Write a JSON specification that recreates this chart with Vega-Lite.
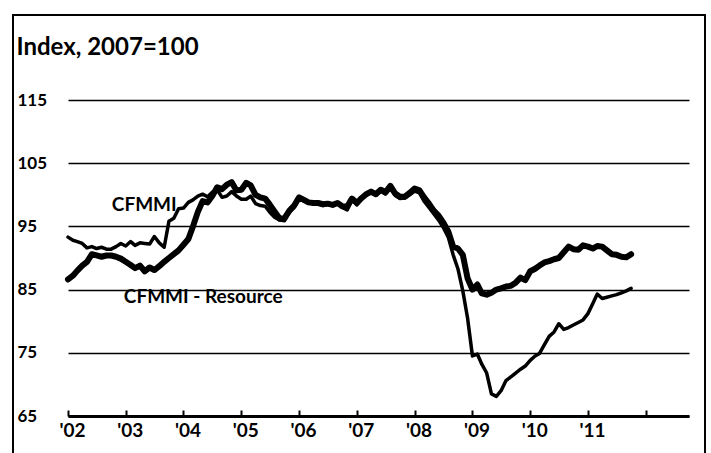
{
  "$schema": "https://vega.github.io/schema/vega-lite/v6.json",
  "width": 692,
  "height": 438,
  "autosize": "none",
  "padding": {"left": 13, "top": 15, "right": 6, "bottom": 0},
  "config": {
    "view": {"stroke": "black", "strokeWidth": 2, "strokeDash": [1130, 692, 600]},
    "font": "Lato"
  },
  "data": {"values": [
    {"d": "2002-01-01", "a": 93.3, "b": 86.6},
    {"d": "2002-02-01", "a": 92.8, "b": 87.2},
    {"d": "2002-03-01", "a": 92.6, "b": 88.0},
    {"d": "2002-04-01", "a": 92.3, "b": 88.8},
    {"d": "2002-05-01", "a": 91.6, "b": 89.4},
    {"d": "2002-06-01", "a": 91.8, "b": 90.6},
    {"d": "2002-07-01", "a": 91.5, "b": 90.4},
    {"d": "2002-08-01", "a": 91.7, "b": 90.2},
    {"d": "2002-09-01", "a": 91.4, "b": 90.4},
    {"d": "2002-10-01", "a": 91.4, "b": 90.4},
    {"d": "2002-11-01", "a": 91.8, "b": 90.2},
    {"d": "2002-12-01", "a": 92.3, "b": 89.9},
    {"d": "2003-01-01", "a": 91.9, "b": 89.4},
    {"d": "2003-02-01", "a": 92.6, "b": 88.9},
    {"d": "2003-03-01", "a": 92.0, "b": 88.4},
    {"d": "2003-04-01", "a": 92.4, "b": 88.8},
    {"d": "2003-05-01", "a": 92.3, "b": 87.9},
    {"d": "2003-06-01", "a": 92.2, "b": 88.5},
    {"d": "2003-07-01", "a": 93.4, "b": 88.1},
    {"d": "2003-08-01", "a": 92.4, "b": 88.7},
    {"d": "2003-09-01", "a": 91.7, "b": 89.4},
    {"d": "2003-10-01", "a": 95.8, "b": 90.0},
    {"d": "2003-11-01", "a": 96.3, "b": 90.6},
    {"d": "2003-12-01", "a": 97.8, "b": 91.2},
    {"d": "2004-01-01", "a": 97.9, "b": 92.1},
    {"d": "2004-02-01", "a": 98.8, "b": 93.0},
    {"d": "2004-03-01", "a": 99.2, "b": 95.0},
    {"d": "2004-04-01", "a": 99.8, "b": 97.3},
    {"d": "2004-05-01", "a": 100.1, "b": 99.0},
    {"d": "2004-06-01", "a": 99.7, "b": 98.8},
    {"d": "2004-07-01", "a": 100.4, "b": 99.8},
    {"d": "2004-08-01", "a": 100.8, "b": 101.2},
    {"d": "2004-09-01", "a": 99.6, "b": 100.9},
    {"d": "2004-10-01", "a": 99.8, "b": 101.6},
    {"d": "2004-11-01", "a": 100.5, "b": 102.0},
    {"d": "2004-12-01", "a": 99.8, "b": 100.7},
    {"d": "2005-01-01", "a": 99.3, "b": 100.8},
    {"d": "2005-02-01", "a": 99.3, "b": 101.9},
    {"d": "2005-03-01", "a": 99.8, "b": 101.5},
    {"d": "2005-04-01", "a": 98.6, "b": 100.0},
    {"d": "2005-05-01", "a": 98.3, "b": 99.6},
    {"d": "2005-06-01", "a": 98.2, "b": 99.4},
    {"d": "2005-07-01", "a": 97.2, "b": 98.4},
    {"d": "2005-08-01", "a": 96.4, "b": 97.3},
    {"d": "2005-09-01", "a": 96.0, "b": 96.2},
    {"d": "2005-10-01", "a": 95.9, "b": 96.3},
    {"d": "2005-11-01", "a": 97.3, "b": 97.5},
    {"d": "2005-12-01", "a": 98.0, "b": 98.3},
    {"d": "2006-01-01", "a": 99.3, "b": 99.6},
    {"d": "2006-02-01", "a": 99.0, "b": 99.2},
    {"d": "2006-03-01", "a": 98.8, "b": 98.8},
    {"d": "2006-04-01", "a": 98.6, "b": 98.7},
    {"d": "2006-05-01", "a": 98.6, "b": 98.7},
    {"d": "2006-06-01", "a": 98.3, "b": 98.5},
    {"d": "2006-07-01", "a": 98.5, "b": 98.6},
    {"d": "2006-08-01", "a": 98.3, "b": 98.4},
    {"d": "2006-09-01", "a": 98.6, "b": 98.7},
    {"d": "2006-10-01", "a": 98.0, "b": 98.2},
    {"d": "2006-11-01", "a": 97.6, "b": 98.1},
    {"d": "2006-12-01", "a": 99.3, "b": 99.4},
    {"d": "2007-01-01", "a": 98.4, "b": 98.7},
    {"d": "2007-02-01", "a": 99.4, "b": 99.5},
    {"d": "2007-03-01", "a": 99.9, "b": 100.1},
    {"d": "2007-04-01", "a": 100.3, "b": 100.5},
    {"d": "2007-05-01", "a": 99.9, "b": 100.1},
    {"d": "2007-06-01", "a": 100.6, "b": 100.8},
    {"d": "2007-07-01", "a": 100.1, "b": 100.4},
    {"d": "2007-08-01", "a": 101.0, "b": 101.4},
    {"d": "2007-09-01", "a": 99.9, "b": 100.2},
    {"d": "2007-10-01", "a": 99.4, "b": 99.7},
    {"d": "2007-11-01", "a": 99.5, "b": 99.7},
    {"d": "2007-12-01", "a": 100.0, "b": 100.3},
    {"d": "2008-01-01", "a": 100.6, "b": 101.0},
    {"d": "2008-02-01", "a": 100.3, "b": 100.7},
    {"d": "2008-03-01", "a": 99.0, "b": 99.6},
    {"d": "2008-04-01", "a": 98.0, "b": 98.6},
    {"d": "2008-05-01", "a": 97.0, "b": 97.5},
    {"d": "2008-06-01", "a": 96.0, "b": 96.7},
    {"d": "2008-07-01", "a": 94.8, "b": 95.6},
    {"d": "2008-08-01", "a": 93.3, "b": 94.2},
    {"d": "2008-09-01", "a": 90.5, "b": 91.8},
    {"d": "2008-10-01", "a": 88.3, "b": 91.5},
    {"d": "2008-11-01", "a": 84.8, "b": 90.5},
    {"d": "2008-12-01", "a": 80.5, "b": 86.8},
    {"d": "2009-01-01", "a": 74.5, "b": 85.0},
    {"d": "2009-02-01", "a": 74.8, "b": 85.8},
    {"d": "2009-03-01", "a": 73.2, "b": 84.4},
    {"d": "2009-04-01", "a": 71.8, "b": 84.2},
    {"d": "2009-05-01", "a": 68.5, "b": 84.5},
    {"d": "2009-06-01", "a": 68.1, "b": 85.0},
    {"d": "2009-07-01", "a": 69.0, "b": 85.2},
    {"d": "2009-08-01", "a": 70.6, "b": 85.5},
    {"d": "2009-09-01", "a": 71.2, "b": 85.6},
    {"d": "2009-10-01", "a": 71.8, "b": 86.1},
    {"d": "2009-11-01", "a": 72.4, "b": 86.9},
    {"d": "2009-12-01", "a": 72.9, "b": 86.5},
    {"d": "2010-01-01", "a": 73.8, "b": 87.9},
    {"d": "2010-02-01", "a": 74.5, "b": 88.3},
    {"d": "2010-03-01", "a": 74.9, "b": 88.8},
    {"d": "2010-04-01", "a": 76.3, "b": 89.3},
    {"d": "2010-05-01", "a": 77.6, "b": 89.5},
    {"d": "2010-06-01", "a": 78.3, "b": 89.8},
    {"d": "2010-07-01", "a": 79.6, "b": 90.0},
    {"d": "2010-08-01", "a": 78.7, "b": 90.9},
    {"d": "2010-09-01", "a": 79.0, "b": 91.8},
    {"d": "2010-10-01", "a": 79.4, "b": 91.4},
    {"d": "2010-11-01", "a": 79.8, "b": 91.3},
    {"d": "2010-12-01", "a": 80.2, "b": 92.0},
    {"d": "2011-01-01", "a": 81.2, "b": 91.8},
    {"d": "2011-02-01", "a": 82.8, "b": 91.5},
    {"d": "2011-03-01", "a": 84.3, "b": 91.9},
    {"d": "2011-04-01", "a": 83.6, "b": 91.8},
    {"d": "2011-05-01", "a": 83.8, "b": 91.2},
    {"d": "2011-06-01", "a": 84.0, "b": 90.6},
    {"d": "2011-07-01", "a": 84.2, "b": 90.5},
    {"d": "2011-08-01", "a": 84.5, "b": 90.2},
    {"d": "2011-09-01", "a": 84.8, "b": 90.1},
    {"d": "2011-10-01", "a": 85.2, "b": 90.6}
  ]},
  "layer": [
    {
      "mark": {"type": "line", "color": "black", "strokeWidth": 3.5, "strokeJoin": "round", "strokeCap": "round"},
      "encoding": {
        "x": {
          "field": "d", "type": "temporal",
          "scale": {"type": "utc", "domain": [{"year": 2002, "month": 1, "date": 1, "utc": true}, {"year": 2012, "month": 10, "date": 1, "utc": true}], "range": [55, 676]},
          "axis": {
            "title": null,
            "values": [
              {"year": 2002, "month": 1, "date": 1, "utc": true},
              {"year": 2003, "month": 1, "date": 1, "utc": true},
              {"year": 2004, "month": 1, "date": 1, "utc": true},
              {"year": 2005, "month": 1, "date": 1, "utc": true},
              {"year": 2006, "month": 1, "date": 1, "utc": true},
              {"year": 2007, "month": 1, "date": 1, "utc": true},
              {"year": 2008, "month": 1, "date": 1, "utc": true},
              {"year": 2009, "month": 1, "date": 1, "utc": true},
              {"year": 2010, "month": 1, "date": 1, "utc": true},
              {"year": 2011, "month": 1, "date": 1, "utc": true},
              {"year": 2012, "month": 1, "date": 1, "utc": true}
            ],
            "labelExpr": "utcyear(datum.value) == 2012 ? '' : \"'\" + utcFormat(datum.value, '%y')",
            "grid": false,
            "domainColor": "black", "domainWidth": 3,
            "tickColor": "black", "tickWidth": 2, "tickSize": -6,
            "labelPadding": 11, "offset": -37,
            "labelFont": "Lato", "labelFontSize": 19, "labelFontWeight": "bold", "labelColor": "black",
            "labelAlign": "center", "labelBaseline": "top", "labelOffset": 4,
            "labelFlush": false, "labelOverlap": false
          }
        },
        "y": {
          "field": "a", "type": "quantitative",
          "scale": {"domain": [65, 115], "range": [401, 85]},
          "axis": {
            "title": "Index, 2007=100",
            "titleAngle": 0, "titleAlign": "left", "titleBaseline": "middle",
            "titleX": -1, "titleY": 32, "titleFont": "Lato", "titleFontSize": 24, "titleFontWeight": "bold", "titleColor": "black",
            "values": [65, 75, 85, 95, 105, 115],
            "ticks": false, "domain": false,
            "grid": true, "gridColor": "black", "gridWidth": 1.5, "gridOpacity": 1,
            "labelAlign": "left", "labelBaseline": "middle", "labelPadding": 0, "offset": -4,
            "labelFont": "Lato", "labelFontSize": 17, "labelFontWeight": "bold", "labelColor": "black",
            "labelFlush": false, "labelOverlap": false
          }
        }
      }
    },
    {
      "mark": {"type": "line", "color": "black", "strokeWidth": 6, "strokeJoin": "round", "strokeCap": "round"},
      "encoding": {
        "x": {"field": "d", "type": "temporal"},
        "y": {"field": "b", "type": "quantitative"}
      }
    },
    {
      "data": {"values": [
        {"d": "2002-10-05", "v": 98.4, "t": "CFMMI"},
        {"d": "2002-12-20", "v": 83.8, "t": "CFMMI - Resource"}
      ]},
      "mark": {"type": "text", "align": "left", "baseline": "middle", "font": "Lato", "fontSize": 19, "fontWeight": "bold", "color": "black"},
      "encoding": {
        "x": {"field": "d", "type": "temporal"},
        "y": {"field": "v", "type": "quantitative"},
        "text": {"field": "t"}
      }
    }
  ]
}
